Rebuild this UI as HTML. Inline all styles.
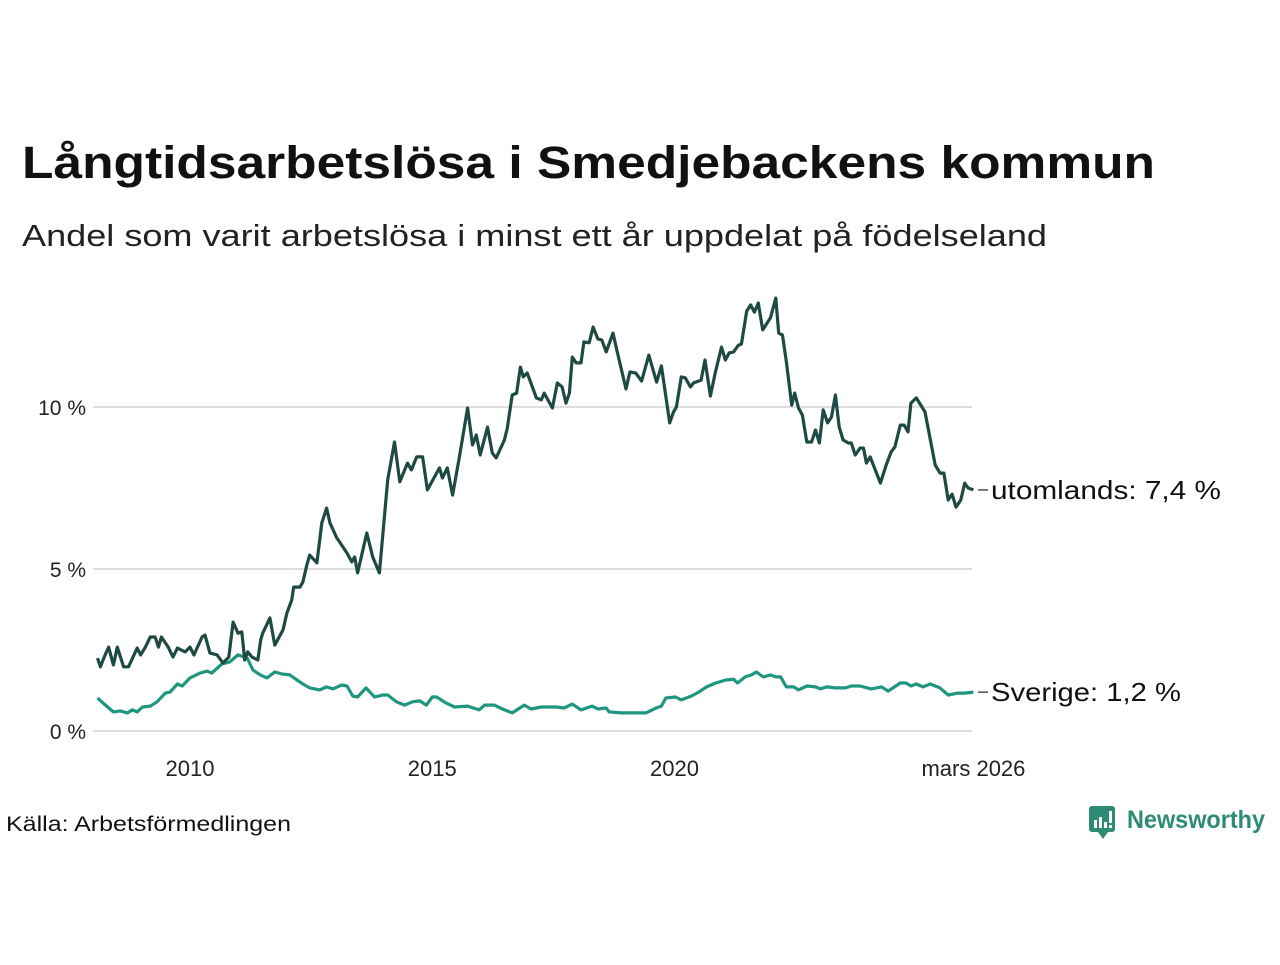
<!DOCTYPE html>
<html><head><meta charset="utf-8"><style>
body{margin:0;background:#fff;width:1280px;height:960px;overflow:hidden;font-family:"Liberation Sans",sans-serif;}
svg text{font-family:"Liberation Sans",sans-serif;}
</style></head><body>
<svg id="chart" width="1280" height="960" viewBox="0 0 1280 960">
<text x="22" y="178" font-size="45" font-weight="bold" fill="#111" textLength="1133" lengthAdjust="spacingAndGlyphs">Långtidsarbetslösa i Smedjebackens kommun</text>
<text x="22" y="246" font-size="31" fill="#222" textLength="1025" lengthAdjust="spacingAndGlyphs">Andel som varit arbetslösa i minst ett år uppdelat på födelseland</text>
<g id="grid"></g>
<g id="series"></g>
<text x="6" y="831" font-size="21" fill="#111" textLength="285" lengthAdjust="spacingAndGlyphs">Källa: Arbetsförmedlingen</text>
<g>
<rect x="1089" y="806" width="26" height="26" rx="3" fill="#2e8b76"/>
<path d="M1098 832 L1103 839 L1108 832 Z" fill="#2e8b76"/>
<rect x="1094" y="820" width="3" height="8" fill="#fff"/><rect x="1099" y="817" width="3" height="11" fill="#fff"/><rect x="1104" y="822" width="3" height="6" fill="#fff"/><rect x="1109" y="811" width="3" height="12" fill="#fff"/><rect x="1109" y="825" width="3" height="3" fill="#fff"/>
<text x="1127" y="828" font-size="25" font-weight="bold" fill="#2e8b76" textLength="138" lengthAdjust="spacingAndGlyphs">Newsworthy</text>
</g>
</svg>
<script>
const yTicks=[0,5,10];
const yTickLabels=["0 %","5 %","10 %"];
const xTicks=[2010,2015,2020,2026.17];
const xTickLabels=["2010","2015","2020","mars 2026"];
const darkDates=[2008.09,2008.15,2008.23,2008.32,2008.42,2008.50,2008.63,2008.73,2008.91,2008.98,2009.08,2009.18,2009.28,2009.35,2009.41,2009.55,2009.65,2009.74,2009.90,2010.00,2010.08,2010.25,2010.31,2010.41,2010.56,2010.68,2010.80,2010.89,2010.99,2011.07,2011.13,2011.19,2011.28,2011.40,2011.46,2011.50,2011.65,2011.75,2011.92,2012.00,2012.10,2012.14,2012.27,2012.33,2012.41,2012.47,2012.62,2012.72,2012.82,2012.89,2013.03,2013.09,2013.24,2013.34,2013.40,2013.46,2013.65,2013.77,2013.91,2014.08,2014.22,2014.33,2014.49,2014.57,2014.68,2014.80,2014.90,2015.15,2015.21,2015.31,2015.42,2015.56,2015.73,2015.83,2015.91,2015.99,2016.14,2016.24,2016.32,2016.49,2016.55,2016.65,2016.74,2016.82,2016.88,2016.96,2017.15,2017.25,2017.31,2017.48,2017.58,2017.68,2017.76,2017.83,2017.89,2017.97,2018.07,2018.13,2018.24,2018.32,2018.42,2018.50,2018.59,2018.73,2018.81,2019.00,2019.08,2019.20,2019.32,2019.47,2019.63,2019.73,2019.90,2019.98,2020.04,2020.14,2020.22,2020.33,2020.39,2020.55,2020.63,2020.74,2020.84,2020.97,2021.05,2021.13,2021.22,2021.32,2021.38,2021.49,2021.57,2021.65,2021.73,2021.82,2021.98,2022.09,2022.15,2022.23,2022.31,2022.42,2022.48,2022.56,2022.64,2022.73,2022.83,2022.91,2022.99,2023.07,2023.16,2023.24,2023.32,2023.40,2023.48,2023.59,2023.65,2023.73,2023.83,2023.90,2023.96,2024.04,2024.25,2024.37,2024.47,2024.55,2024.66,2024.74,2024.82,2024.88,2024.99,2025.17,2025.38,2025.48,2025.56,2025.65,2025.73,2025.81,2025.91,2025.99,2026.06,2026.17];
const darkValues=[2.25,1.98,2.28,2.59,2.04,2.59,1.98,1.98,2.56,2.35,2.59,2.90,2.90,2.59,2.90,2.59,2.28,2.56,2.44,2.59,2.35,2.90,2.96,2.41,2.35,2.10,2.28,3.36,3.02,3.06,2.19,2.44,2.28,2.19,2.81,3.02,3.49,2.65,3.12,3.64,4.04,4.44,4.44,4.60,5.12,5.43,5.19,6.42,6.88,6.42,5.96,5.83,5.49,5.22,5.37,4.88,6.11,5.37,4.88,7.75,8.92,7.69,8.27,8.06,8.46,8.46,7.44,8.12,7.81,8.12,7.28,8.46,9.97,8.83,9.14,8.52,9.38,8.58,8.43,8.98,9.35,10.37,10.43,11.23,10.93,11.05,10.28,10.22,10.43,9.97,10.74,10.62,10.12,10.43,11.54,11.36,11.36,12.01,11.98,12.47,12.10,12.07,11.70,12.28,11.76,10.56,11.08,11.05,10.80,11.60,10.77,11.27,9.51,9.85,10.00,10.93,10.90,10.62,10.74,10.83,11.45,10.34,11.05,11.85,11.45,11.67,11.70,11.91,11.94,12.96,13.15,12.93,13.21,12.38,12.75,13.36,12.28,12.22,11.39,10.06,10.43,9.97,9.75,8.92,8.92,9.29,8.89,9.91,9.51,9.69,10.37,9.38,8.98,8.89,8.89,8.52,8.73,8.73,8.27,8.46,7.65,8.21,8.61,8.77,9.44,9.44,9.23,10.12,10.28,9.85,8.21,7.96,7.96,7.13,7.31,6.91,7.13,7.65,7.50,7.44];
const lightDates=[2008.09,2008.30,2008.42,2008.56,2008.71,2008.81,2008.91,2009.02,2009.18,2009.32,2009.49,2009.59,2009.74,2009.84,2010.00,2010.21,2010.35,2010.45,2010.66,2010.82,2010.99,2011.18,2011.30,2011.45,2011.59,2011.75,2011.90,2012.06,2012.21,2012.33,2012.47,2012.68,2012.82,2012.95,2013.13,2013.24,2013.36,2013.46,2013.63,2013.81,2013.98,2014.08,2014.26,2014.43,2014.59,2014.74,2014.88,2015.00,2015.09,2015.29,2015.46,2015.73,2015.97,2016.08,2016.28,2016.45,2016.65,2016.90,2017.04,2017.25,2017.56,2017.72,2017.89,2018.07,2018.30,2018.42,2018.59,2018.65,2018.90,2019.12,2019.41,2019.62,2019.73,2019.82,2020.02,2020.14,2020.35,2020.50,2020.66,2020.85,2021.05,2021.22,2021.30,2021.46,2021.59,2021.69,2021.83,2021.98,2022.09,2022.19,2022.31,2022.46,2022.56,2022.73,2022.91,2023.01,2023.14,2023.32,2023.53,2023.65,2023.83,2024.06,2024.27,2024.41,2024.66,2024.78,2024.88,2024.99,2025.13,2025.28,2025.48,2025.65,2025.85,2025.99,2026.17];
const lightValues=[1.02,0.74,0.59,0.62,0.56,0.65,0.59,0.74,0.77,0.90,1.17,1.20,1.45,1.39,1.64,1.79,1.85,1.79,2.07,2.13,2.35,2.25,1.88,1.73,1.64,1.82,1.76,1.73,1.57,1.45,1.33,1.27,1.36,1.30,1.42,1.39,1.08,1.05,1.33,1.05,1.11,1.11,0.90,0.80,0.90,0.93,0.80,1.05,1.05,0.86,0.74,0.77,0.65,0.80,0.80,0.68,0.56,0.80,0.68,0.74,0.74,0.71,0.83,0.65,0.77,0.68,0.71,0.59,0.56,0.56,0.56,0.71,0.77,1.02,1.05,0.96,1.08,1.20,1.36,1.48,1.57,1.60,1.48,1.67,1.73,1.82,1.67,1.73,1.67,1.67,1.36,1.36,1.27,1.39,1.36,1.30,1.36,1.33,1.33,1.39,1.39,1.30,1.36,1.23,1.48,1.48,1.39,1.45,1.36,1.45,1.33,1.11,1.17,1.17,1.20];
const seriesLabels=["utomlands: 7,4 %","Sverige: 1,2 %"];

const NS="http://www.w3.org/2000/svg";
const X0=93,X1=972;
function xs(t){return 190+(t-2010)*48.45;}
function ys(v){return 731-v*32.4;}
const grid=document.getElementById('grid');
const ser=document.getElementById('series');
function mk(tag,attrs,parent){const e=document.createElementNS(NS,tag);for(const k in attrs)e.setAttribute(k,attrs[k]);parent.appendChild(e);return e;}
yTicks.forEach((v,i)=>{
  const l=mk('line',{x1:X0,x2:X1,y1:ys(v),y2:ys(v),stroke:'#dedede','stroke-width':2},grid);
  
  
  const t=mk('text',{x:86,y:ys(v)+8,'font-size':21,'text-anchor':'end',fill:'#222'},grid);
  t.textContent=yTickLabels[i];
  
  
});
xTicks.forEach((v,i)=>{
  const t=mk('text',{x:xs(v),y:776,'font-size':22,'text-anchor':'middle',fill:'#222'},grid);
  t.textContent=xTickLabels[i];
  
  
});
function line(dates,vals,color,name){
  const d=dates.map((t,i)=>(i?'L':'M')+xs(t).toFixed(1)+' '+ys(vals[i]).toFixed(1)).join(' ');
  const p=mk('path',{d:d,fill:'none',stroke:color,'stroke-width':3.2,'stroke-linejoin':'round'},ser);
  
  
}
line(lightDates,lightValues,'#1f9680','line-sverige');
line(darkDates,darkValues,'#1f4a44','line-utomlands');
const labelWidths=[230,190];
const ends=[[darkValues[darkValues.length-1],'#1f4a44'],[lightValues[lightValues.length-1],'#1f9680']];
ends.forEach((e,i)=>{
  const y=ys(e[0]);
  const l=mk('line',{x1:978,x2:988,y1:y,y2:y,stroke:'#222','stroke-width':1.2},ser);
  
  
  const t=mk('text',{x:991,y:y+9,'font-size':26,fill:'#111',textLength:labelWidths[i],lengthAdjust:'spacingAndGlyphs'},ser);
  t.textContent=seriesLabels[i];
  
  
});
</script>
</body></html>
